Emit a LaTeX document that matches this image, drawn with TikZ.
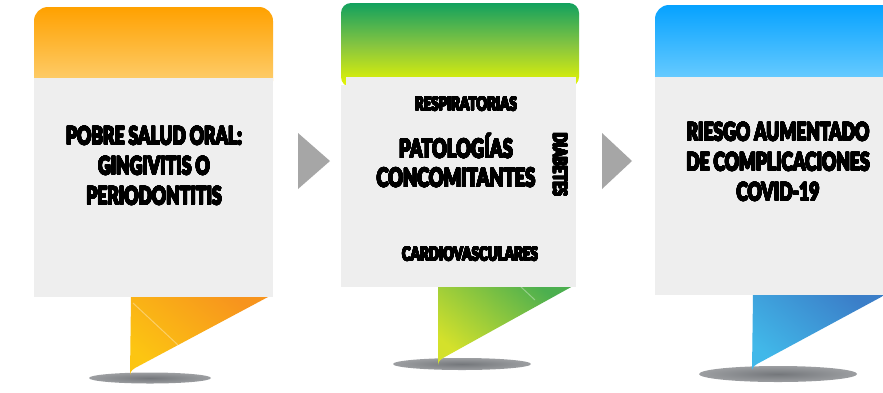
\documentclass[tikz,border=0pt]{standalone}
\usepackage{fontspec}
\usepackage{contour}
\contourlength{0.5pt}
\contournumber{24}
\newfontfamily\imp[FakeStretch=0.70]{Lato Black}
\newcommand{\heavy}[1]{\contour{black}{#1}}
\definecolor{orA}{HTML}{FFA100}
\definecolor{orB}{HTML}{FDD57F}
\definecolor{grA}{HTML}{12A15E}
\definecolor{grM}{HTML}{86C540}
\definecolor{grB}{HTML}{E8F600}
\definecolor{blA}{HTML}{06A2FF}
\definecolor{blB}{HTML}{7DD4FF}
\definecolor{toD}{HTML}{F7941D}
\definecolor{toL}{HTML}{FCC512}
\definecolor{tgD}{HTML}{4CAF4F}
\definecolor{tgL}{HTML}{D4E12B}
\definecolor{tbD}{HTML}{3B7EC8}
\definecolor{tbL}{HTML}{41B8E9}
\definecolor{bodyc}{HTML}{EEEEEE}
\definecolor{arrowc}{HTML}{A6A6A6}
\definecolor{sh1}{HTML}{74777B}
\definecolor{sh2}{HTML}{9C9EA1}
\definecolor{sh3}{HTML}{D3D4D6}
\pgfdeclareradialshading{shadowshade}{\pgfpoint{0bp}{0bp}}{color(0bp)=(sh1); color(25bp)=(sh2); color(50bp)=(sh3); color(100bp)=(sh3)}
\tikzset{
  bodybox/.style={fill=bodyc},
  shadowell/.style={shading=shadowshade},
  bigtxt/.style={font=\imp\fontsize{25}{30}\selectfont, align=center, inner sep=0pt},
  smalltxt/.style={font=\imp\fontsize{19}{22}\selectfont, inner sep=0pt},
  gloss/.style={white, opacity=0.35, line width=1pt},
}
\begin{document}
\begin{tikzpicture}[x=1pt,y=-1pt]
\useasboundingbox (0,0) rectangle (883,392);
\fill[white] (0,0) rectangle (883,392);

% ---------- panel 1 ----------
\shade[shadowell] (150,378) ellipse [x radius=61, y radius=5.5];
\shade[top color=toD, bottom color=toL, shading angle=-40] (131,297) -- (268,297) -- (135,368) .. controls (131,371) .. (130,375) -- cycle;
\draw[gloss] (133,303) -- (178,345);
\shade[top color=orA, bottom color=orB, rounded corners=14] (34,7) rectangle (273,95);
\fill[bodybox] (34,78) rectangle (273,297);
\node[bigtxt] (t1) at (154,166) {\heavy{POBRE SALUD ORAL:}\\\heavy{GINGIVITIS O}\\\heavy{PERIODONTITIS}};

% arrow 1
\coordinate (a1) at (298,133);
\coordinate (a2) at (330,161);
\coordinate (a3) at (298,189);
\fill[arrowc] (a1) -- (a2) -- (a3) -- cycle;

% ---------- panel 2 ----------
\shade[shadowell] (462,364) ellipse [x radius=69, y radius=6];
\shade[top color=tgD, bottom color=tgL, shading angle=-40] (438,286) -- (573,286) -- (443,358) .. controls (439,361) .. (438,365) -- cycle;
\draw[gloss] (520,286) -- (535,300);
\shade[top color=grA, bottom color=grB, middle color=grM, rounded corners=10] (341,3) rectangle (579,87);
\fill[bodybox] (346,77) rectangle (576,86);
\fill[bodybox] (341,85) rectangle (576,287);
\node[smalltxt] (r) at (466,104) {\heavy{RESPIRATORIAS}};
\node[bigtxt, font=\imp\fontsize{26}{29}\selectfont] (p) at (456,161) {\heavy{PATOLOGÍAS}\\\heavy{CONCOMITANTES}};
\node[smalltxt, rotate=-90] (d) at (560,165) {\heavy{DIABETES}};
\node[smalltxt] (c) at (470,254) {\heavy{CARDIOVASCULARES}};

% arrow 2
\coordinate (b1) at (602,133);
\coordinate (b2) at (632,161);
\coordinate (b3) at (602,189);
\fill[arrowc] (b1) -- (b2) -- (b3) -- cycle;

% ---------- panel 3 ----------
\shade[shadowell] (778,374) ellipse [x radius=79, y radius=8];
\shade[top color=tbD, bottom color=tbL, shading angle=-40] (753,294) -- (883,294) -- (883,296) -- (757,364) .. controls (753,367) .. (752,370) -- cycle;
\shade[top color=blA, bottom color=blB, rounded corners=14] (655,5) rectangle (900,95);
\fill[bodybox] (655,77) rectangle (883,295);
\node[bigtxt] (t3) at (778,162) {\heavy{RIESGO AUMENTADO}\\\heavy{DE COMPLICACIONES}\\\heavy{COVID-19}};
\end{tikzpicture}
\end{document}
